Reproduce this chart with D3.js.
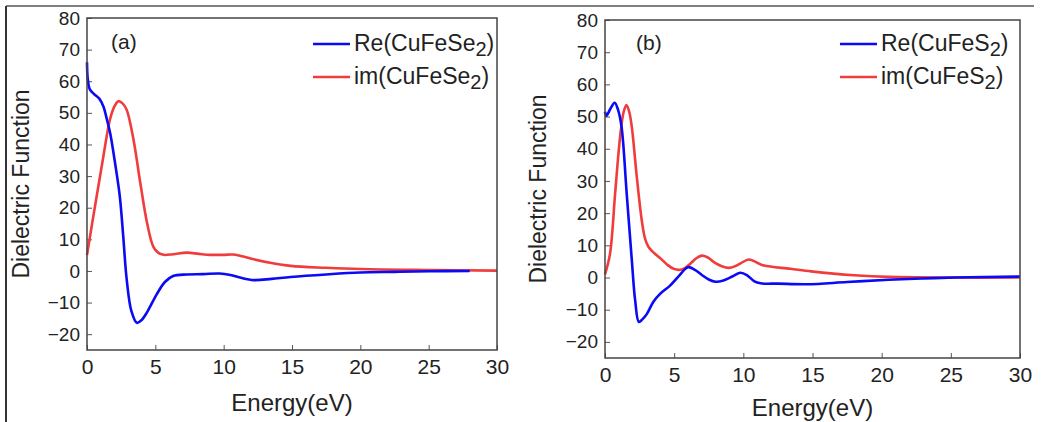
<!DOCTYPE html>
<html>
<head>
<meta charset="utf-8">
<script src="https://cdn.jsdelivr.net/npm/d3@7"></script>
<style>
  body { margin: 0; background: #fff; }
  svg { display: block; font-family: "Liberation Sans", Arial, sans-serif; }
</style>
</head>
<body>
<svg id="chart"></svg>
<script>
let width = 1048;
let height = 422;

// panel (a) CuFeSe2
const reSeE = [0, 0.05, 0.2, 0.5, 0.9, 1.2, 1.45, 1.7, 2.05, 2.4, 2.65, 2.9, 3.25, 3.65, 4.0, 4.4, 5.1, 5.7, 6.3, 7.3, 8.5, 9.7, 10.5, 11.2, 12.2, 13.5, 14.9, 17.5, 20, 22.5, 25.1, 28];
const reSeV = [66, 61, 57.5, 56, 54.5, 52, 48, 43.5, 34.2, 23.6, 11, -2.5, -12.7, -16.4, -15.5, -13, -7.4, -3.5, -1.6, -1.1, -1, -0.8, -1.3, -2.1, -2.9, -2.5, -1.9, -1.1, -0.5, -0.3, -0.1, 0];
const imSeE = [0, 0.45, 0.8, 1.2, 1.68, 2.0, 2.3, 2.6, 2.9, 3.4, 3.9, 4.4, 4.85, 5.2, 5.6, 6.3, 7.3, 8.2, 9, 10, 10.7, 11.5, 12.2, 13.5, 14.9, 17.5, 20, 25, 30];
const imSeV = [5, 17, 26, 36.3, 47.9, 52, 53.7, 53, 51, 41.6, 27.8, 15.1, 7.7, 5.8, 5.1, 5.3, 5.8, 5.4, 5.1, 5.1, 5.2, 4.5, 3.7, 2.5, 1.6, 1, 0.6, 0.3, 0.1];

// panel (b) CuFeS2
const reSE = [0, 0.1, 0.4, 0.7, 0.95, 1.2, 1.57, 1.94, 2.18, 2.45, 2.7, 3.03, 3.5, 4.0, 4.7, 5.3, 6.0, 6.5, 7.0, 7.5, 8.0, 8.5, 9.2, 9.8, 10.3, 10.8, 11.25, 12.5, 14.6, 17.5, 20.5, 23, 25.3, 30];
const reSV = [51.5, 50.3, 52.5, 54.3, 52, 46.7, 26, 5.3, -7.1, -13.8, -13, -11.3, -7.5, -5, -2.5, 0.3, 3.2, 2.4, 0.8, -0.6, -1.3, -1, 0.3, 1.5, 0.6, -1.2, -1.8, -1.9, -2.1, -1.4, -0.7, -0.3, 0, 0.3];
const imSE = [0, 0.36, 0.73, 1.09, 1.35, 1.55, 1.75, 1.94, 2.3, 2.66, 2.9, 3.15, 3.5, 4.0, 4.5, 4.96, 5.45, 5.8, 6.17, 6.6, 7.0, 7.4, 7.87, 8.4, 8.96, 9.4, 9.8, 10.4, 11.0, 11.5, 13.4, 14.9, 16.5, 18, 20.5, 25, 30];
const imSV = [1, 7.3, 26, 43.6, 51.5, 53.6, 51.5, 46.7, 31.2, 17.7, 12, 9.5, 7.8, 6, 4, 2.7, 2.4, 3, 4.3, 6, 6.8, 6.3, 4.8, 3.6, 3, 3.5, 4.4, 5.6, 4.6, 3.7, 2.7, 1.9, 1.2, 0.7, 0.2, 0, 0];

const xTicks = [0, 5, 10, 15, 20, 25, 30];
const yTicks = [-20, -10, 0, 10, 20, 30, 40, 50, 60, 70, 80];
const blue = "#0a0af5";
const red = "#f03c3c";

let svg = d3.select("svg#chart").attr("width", width).attr("height", height);

// outer frame lines
svg.append("line").attr("x1", 6).attr("y1", 6).attr("x2", 1034).attr("y2", 6)
  .attr("stroke", "#555").attr("stroke-width", 1.5);
svg.append("line").attr("x1", 6).attr("y1", 6).attr("x2", 6).attr("y2", height)
  .attr("stroke", "#333").attr("stroke-width", 2);

function zip(xs, ys) {
  return xs.map((x, i) => ({ x: x, y: ys[i] }));
}

drawPanel({
  left: 87, right: 497, top: 18, bottom: 350,
  tag: "(a)", tagX: 111, tagY: 49,
  formula: "CuFeSe",
  legX: 313, legY: 44,
  yTitleX: 21, xTitleY: 411,
  re: zip(reSeE, reSeV), im: zip(imSeE, imSeV),
});

drawPanel({
  left: 605, right: 1020, top: 20, bottom: 358,
  tag: "(b)", tagX: 636, tagY: 50,
  formula: "CuFeS",
  legX: 840, legY: 44,
  yTitleX: 538, xTitleY: 416,
  re: zip(reSE, reSV), im: zip(imSE, imSV),
});

function drawPanel(p) {
  let x = d3.scaleLinear().domain([0, 30]).range([p.left, p.right]);
  let y = d3.scaleLinear().domain([-25, 80]).range([p.bottom, p.top]);
  let g = svg.append("g");

  g.append("g")
    .attr("transform", `translate(0, ${p.bottom})`)
    .call(d3.axisBottom(x).tickValues(xTicks).tickSize(-5).tickPadding(9))
    .attr("font-family", null).attr("font-size", null)
    .call((a) => a.select(".domain").remove())
    .call((a) => a.selectAll("line").attr("stroke", "#555"))
    .call((a) => a.selectAll("text").attr("fill", "#222").style("font-size", "21px"));

  g.append("g")
    .attr("transform", `translate(${p.left}, 0)`)
    .call(d3.axisLeft(y).tickValues(yTicks).tickSize(-5).tickPadding(7))
    .attr("font-family", null).attr("font-size", null)
    .call((a) => a.select(".domain").remove())
    .call((a) => a.selectAll("line").attr("stroke", "#555"))
    .call((a) => a.selectAll("text").attr("fill", "#222").style("font-size", "19px"));

  let line = d3.line()
    .x((d) => x(d.x))
    .y((d) => y(d.y))
    .curve(d3.curveCatmullRom.alpha(0.5));

  g.append("path").datum(p.im).attr("d", line)
    .attr("fill", "none").attr("stroke", red).attr("stroke-width", 2.6);
  g.append("path").datum(p.re).attr("d", line)
    .attr("fill", "none").attr("stroke", blue).attr("stroke-width", 2.6);

  g.append("rect")
    .attr("x", p.left).attr("y", p.top)
    .attr("width", p.right - p.left).attr("height", p.bottom - p.top)
    .attr("fill", "none").attr("stroke", "#444").attr("stroke-width", 1.5);

  g.append("text").attr("x", p.tagX).attr("y", p.tagY)
    .attr("fill", "#222").style("font-size", "21px").text(p.tag);

  let legend = [
    { name: "Re(", color: blue },
    { name: "im(", color: red },
  ];
  legend.forEach((d, i) => {
    let ly = p.legY + i * 33;
    g.append("line").attr("x1", p.legX).attr("x2", p.legX + 37)
      .attr("y1", ly).attr("y2", ly)
      .attr("stroke", d.color).attr("stroke-width", 2.6);
    let t = g.append("text").attr("x", p.legX + 41).attr("y", ly + 7)
      .attr("fill", "#222").style("font-size", "23px");
    t.append("tspan").text(d.name + p.formula);
    t.append("tspan").attr("dy", 5).style("font-size", "20px").text("2");
    t.append("tspan").attr("dy", -5).text(")");
  });

  g.append("text")
    .attr("transform", `translate(${p.yTitleX}, ${(p.top + p.bottom) / 2}) rotate(-90)`)
    .attr("text-anchor", "middle").attr("dy", "0.35em")
    .attr("fill", "#222").style("font-size", "23px")
    .text("Dielectric Function");

  g.append("text")
    .attr("x", (p.left + p.right) / 2).attr("y", p.xTitleY)
    .attr("text-anchor", "middle")
    .attr("fill", "#222").style("font-size", "24px")
    .text("Energy(eV)");
}
</script>
</body>
</html>
